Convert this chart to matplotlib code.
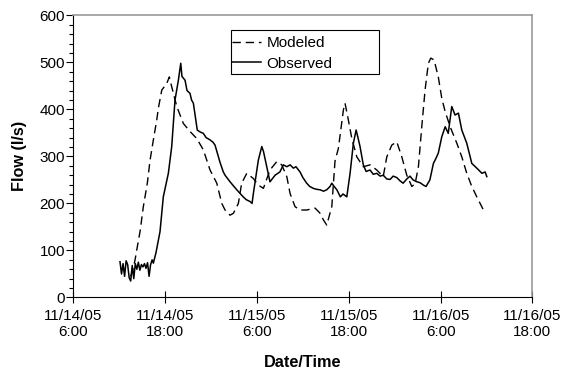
import numpy as np
import pandas as pd
import matplotlib
matplotlib.use("Agg")
import matplotlib.pyplot as plt
from matplotlib.ticker import MultipleLocator
from matplotlib.patches import Rectangle

plt.rcParams['font.family'] = ['Liberation Sans', 'DejaVu Sans']

start = pd.Timestamp('2005-11-14 06:00')

# observed flow, hours after 11/14/05 6:00 and l/s
obs_h = [6.1, 6.3, 6.5, 6.7, 6.9, 7.1, 7.3, 7.5, 7.7, 7.9, 8.1, 8.3, 8.5, 8.7,
         8.9, 9.1, 9.3, 9.5, 9.7, 9.9, 10.1, 10.3, 10.46, 10.8, 11.33, 11.76,
         12.42, 12.86, 13.29, 13.73, 14.04, 14.2, 14.6, 14.86, 15.25, 15.45,
         15.69, 16.2, 16.56, 16.99, 17.35, 17.87, 18.26, 18.52, 19.18, 19.6,
         19.83, 20.48, 21.36, 22.2, 22.6, 23.1, 23.36, 23.53, 24.18, 24.63,
         24.86, 25.28, 25.7, 26.37, 27.0, 27.45, 27.9, 28.33, 28.76, 29.1,
         29.63, 30.0, 30.5, 30.9, 31.37, 31.8, 32.25, 32.7, 33.12, 33.55,
         33.78, 34.1, 34.44, 34.9, 35.25, 35.74, 36.17, 36.6, 36.96, 37.2,
         37.47, 37.9, 38.26, 38.78, 39.2, 39.66, 40.1, 40.5, 40.97, 41.4,
         41.8, 42.27, 42.7, 43.1, 43.58, 44.0, 44.4, 44.9, 45.32, 45.75,
         46.1, 46.6, 47.06, 47.4, 47.7, 48.16, 48.6, 49.0, 49.46, 49.89,
         50.33, 50.77, 51.42, 52.08, 52.73, 53.16, 53.4, 53.82, 54.04]
obs_q = [76, 50, 72, 45, 78, 70, 42, 35, 68, 40, 72, 60, 75, 58,
         70, 65, 72, 62, 74, 45, 70, 80, 73, 95, 140, 214,
         264, 321, 420, 462, 498, 470, 462, 440, 434, 420,
         413, 356, 352, 349, 340, 335, 330, 324, 287, 267,
         260, 246, 229, 214, 208, 204, 200, 221, 292, 321,
         310, 278, 246, 260, 267, 282, 278, 282, 275, 278,
         267, 255, 243, 236, 232, 230, 229, 226, 229, 236,
         243, 236, 229, 214, 220, 214, 264, 328, 356, 340,
         321, 282, 268, 271, 262, 264, 258, 260, 252, 251,
         258, 255, 248, 243, 252, 258, 250, 246, 244, 239,
         236, 250, 285, 296, 307, 342, 363, 349, 406, 388,
         392, 356, 328, 285, 275, 268, 264, 267, 257]

# modeled flow
mod_h = [7.5, 7.8, 8.07, 8.29, 8.72, 9.15, 9.67, 10.03, 10.46, 10.9, 11.11,
         11.56, 12.21, 12.55, 12.86, 13.52, 14.38, 15.25, 16.13, 16.99, 17.87,
         18.75, 19.4, 19.83, 20.48, 20.92, 21.57, 22.0, 22.67, 23.53, 24.18,
         24.84, 25.7, 26.59, 27.24, 27.9, 28.33, 28.98, 29.63, 30.5, 31.6,
         32.25, 32.68, 33.12, 33.78, 34.2, 34.64, 35.3, 35.51, 35.95, 36.4,
         37.05, 37.9, 38.78, 39.66, 40.5, 40.97, 41.62, 42.27, 42.93, 43.58,
         44.24, 44.67, 45.1, 45.54, 45.97, 46.4, 46.72, 47.15, 47.7, 48.16,
         48.6, 49.25, 50.12, 50.77, 51.42, 52.08, 52.73, 53.6]
mod_q = [45, 60, 80, 101, 140, 193, 243, 292, 335, 377, 402,
         441, 455, 469, 448, 406, 370, 353, 338, 314, 271,
         243, 200, 186, 175, 179, 200, 243, 264, 253, 239,
         232, 271, 289, 282, 257, 221, 193, 186, 186, 190,
         179, 165, 154, 193, 290, 317, 399, 413, 377, 338,
         299, 278, 282, 271, 257, 299, 324, 331, 299, 260,
         236, 242, 278, 363, 441, 498, 509, 505, 469, 423,
         395, 363, 328, 299, 264, 236, 214, 186]

tick_h = [0, 12, 24, 36, 48, 60]
tick_labels = ['11/14/05\n6:00', '11/14/05\n18:00', '11/15/05\n6:00',
               '11/15/05\n18:00', '11/16/05\n6:00', '11/16/05\n18:00']

obs_t = start + pd.to_timedelta(obs_h, unit='h')
mod_t = start + pd.to_timedelta(mod_h, unit='h')
tick_t = start + pd.to_timedelta(tick_h, unit='h')

fig = plt.figure(figsize=(5.64, 3.72), dpi=100)
ax = fig.add_axes([0.130, 0.2003, 0.814, 0.7586])

ax.plot(mod_t, mod_q, color='black', lw=1.0, linestyle=(0, (6, 3.5)), label='Modeled')
ax.plot(obs_t, obs_q, color='black', lw=1.1, label='Observed')

ax.set_xlim(tick_t[0], tick_t[-1])
ax.set_ylim(0, 600)
ax.set_xticks(tick_t)
ax.set_xticklabels(tick_labels)
ax.yaxis.set_major_locator(MultipleLocator(100))
ax.yaxis.set_minor_locator(MultipleLocator(20))

ax.tick_params(axis='x', direction='inout', length=8, width=0.8, labelsize=11, pad=4)
ax.tick_params(axis='y', which='major', direction='out', length=5, width=0.8, labelsize=11, pad=1)
ax.tick_params(axis='y', which='minor', direction='out', length=3, width=0.8)

for s in ['top', 'right']:
    ax.spines[s].set_color('#999999')
    ax.spines[s].set_linewidth(1.2)
for s in ['left', 'bottom']:
    ax.spines[s].set_linewidth(0.8)

ax.set_xlabel('Date/Time', fontsize=11.7, fontweight='bold', labelpad=12)
ax.set_ylabel('Flow (l/s)', fontsize=11.7, fontweight='bold', labelpad=9)

# legend box is wider than its text, as in the original
ax.add_patch(Rectangle((0.3436, 0.792), 0.3224, 0.156, transform=ax.transAxes,
                       facecolor='white', edgecolor='black', lw=0.8, zorder=4))
leg = ax.legend(loc='upper left', bbox_to_anchor=(0.346, 0.927), fontsize=11,
                frameon=False, borderpad=0, handlelength=1.9, handletextpad=0.35,
                labelspacing=0.45, borderaxespad=0)
leg.set_zorder(5)

fig.savefig('out.png', dpi=100)
